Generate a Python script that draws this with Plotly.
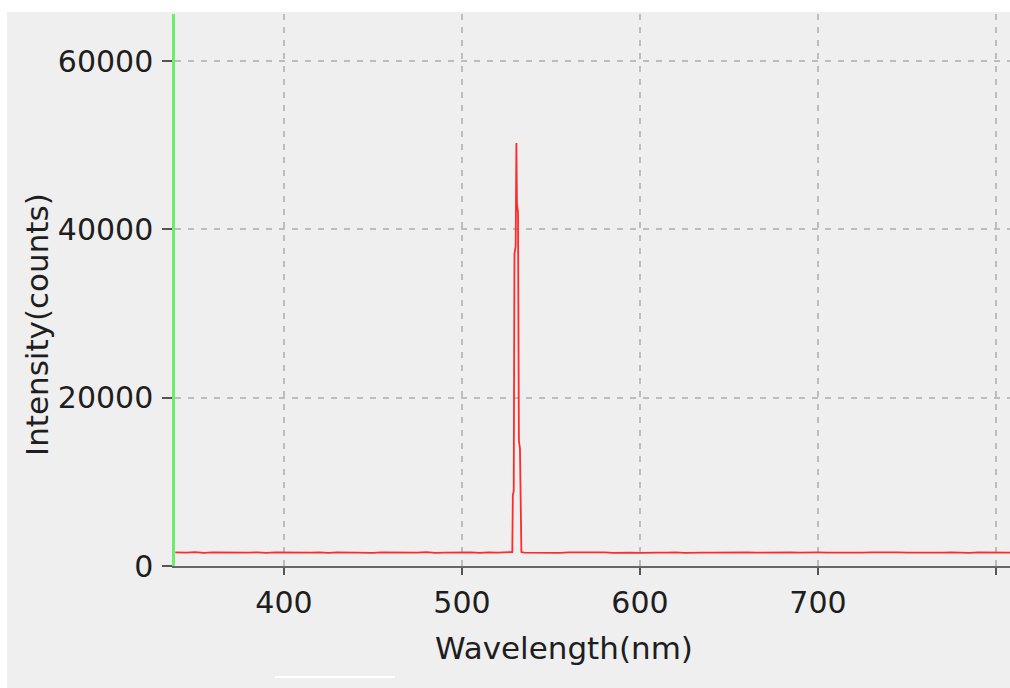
import plotly.graph_objects as go

# ---- data ----
base_wl = [339, 345, 350, 355, 360, 365, 370, 375, 380, 385, 390, 395, 400, 405, 410,
           415, 420, 425, 430, 435, 440, 445, 450, 455, 460, 465, 470, 475, 480, 485,
           490, 495, 500, 505, 510, 515, 520, 525]
base_left = [1620, 1580, 1640, 1560, 1610, 1590, 1630, 1570, 1600, 1620, 1550, 1610, 1590, 1640,
             1570, 1600, 1630, 1560, 1610, 1580, 1620, 1590, 1560, 1630, 1600, 1570, 1610, 1590,
             1640, 1560, 1600, 1620, 1580, 1610, 1570, 1630, 1590, 1600]
peak_wl = [528.3, 528.6, 529.1, 529.5, 530.2, 530.6, 530.9, 531.5, 532.0, 532.6, 533.0, 533.4]
peak_int = [1660, 8440, 8900, 37100, 38000, 50270, 43140, 42000, 14850, 14000, 4280, 1660]
right_wl = [535, 540, 545, 550, 555, 560, 565, 570, 575, 580, 585, 590, 595, 600, 605, 610,
            615, 620, 625, 630, 635, 640, 645, 650, 655, 660, 665, 670, 675, 680, 685, 690,
            695, 700, 705, 710, 715, 720, 725, 730, 735, 740, 745, 750, 755, 760, 765, 770,
            775, 780, 785, 790, 795, 800, 805, 808]
right_int = [1600, 1570, 1620, 1590, 1560, 1610, 1630, 1580, 1600, 1620, 1570, 1610, 1590, 1560,
             1620, 1600, 1580, 1630, 1570, 1610, 1590, 1600, 1620, 1560, 1600, 1630, 1580, 1610,
             1570, 1600, 1620, 1590, 1560, 1610, 1600, 1580, 1630, 1570, 1600, 1620, 1590, 1560,
             1610, 1600, 1580, 1620, 1570, 1600, 1630, 1590, 1560, 1610, 1600, 1620, 1580, 1600]

wavelength = base_wl + peak_wl + right_wl
intensity = base_left + peak_int + right_int

x_ticks = [400, 500, 600, 700, 800]
x_labels = ["400", "500", "600", "700", "800"]
y_ticks = [0, 20000, 40000, 60000]
y_labels = ["0", "20000", "40000", "60000"]

FONT = "DejaVu Sans"
TXT = "#1e1e1e"

fig = go.Figure()
fig.add_trace(go.Scatter(x=wavelength, y=intensity, mode="lines",
                         line=dict(color="#ff2a2a", width=1.8), showlegend=False))

W, H = 1010, 688
L, R, T, B = 175, 0, 14, 122
pw, ph = W - L - R, H - T - B

def px(xp):
    return (xp - L) / pw

def py(yp):
    return (H - B - yp) / ph

fig.update_layout(
    width=W, height=H,
    margin=dict(l=L, r=R, t=T, b=B),
    paper_bgcolor="#efefef", plot_bgcolor="#efefef",
    font=dict(family=FONT, size=30, color=TXT),
    xaxis=dict(range=[338.8, 807.9], tickvals=x_ticks, ticktext=x_labels, ticks="outside",
               ticklen=7, tickwidth=2, tickcolor="#555555", showline=True,
               linecolor="#666666", linewidth=2, showgrid=True, gridcolor="#bdbdbd",
               gridwidth=1.5, griddash="6px,7px", zeroline=False, ticklabelstandoff=2,
               tickfont=dict(family=FONT, size=30, color=TXT)),
    yaxis=dict(range=[0, 65600], tickvals=y_ticks, ticktext=y_labels, ticks="outside",
               ticklen=10, tickwidth=2, tickcolor="#555555", showline=True,
               linecolor="#6cee6c", linewidth=2.5, showgrid=True, gridcolor="#bdbdbd",
               gridwidth=1.5, griddash="6px,7px", zeroline=False, ticklabelstandoff=3,
               tickfont=dict(family=FONT, size=30, color=TXT)),
    shapes=[
        dict(type="rect", xref="paper", yref="paper", x0=px(0), x1=px(W), y0=py(12), y1=py(0),
             fillcolor="white", line=dict(width=0), layer="above"),
        dict(type="rect", xref="paper", yref="paper", x0=px(0), x1=px(7), y0=py(H), y1=py(0),
             fillcolor="white", line=dict(width=0), layer="above"),
        dict(type="line", xref="paper", yref="paper", x0=px(275), x1=px(395), y0=py(677),
             y1=py(677), line=dict(color="white", width=2), layer="above"),
    ],
    annotations=[
        dict(text="Wavelength(nm)", xref="paper", yref="paper", x=px(564), y=py(648),
             showarrow=False, xanchor="center", yanchor="middle",
             font=dict(family=FONT, size=31, color=TXT)),
        dict(text="Intensity(counts)", xref="paper", yref="paper", x=px(37), y=py(325),
             showarrow=False, xanchor="center", yanchor="middle", textangle=-90,
             font=dict(family=FONT, size=31, color=TXT)),
    ],
)

fig.write_html("out.html")
